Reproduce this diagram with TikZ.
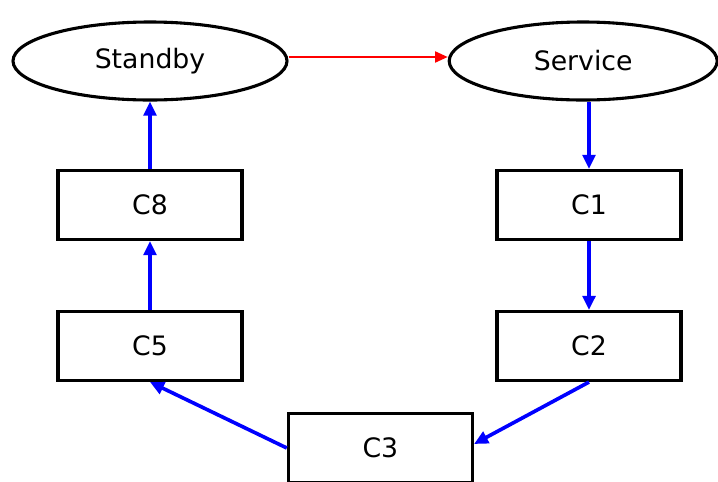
\documentclass[tikz,border=0pt]{standalone}
\usepackage{fontspec}
\setmainfont{DejaVu Sans}
\usetikzlibrary{shapes.geometric,arrows.meta,positioning}

\tikzset{
  statenode/.style={ellipse,draw=black,line width=2.2pt,fill=white,
                    minimum width=6.85cm,minimum height=1.95cm,
                    font=\fontsize{19}{23}\selectfont},
  cbox/.style={rectangle,draw=black,line width=2.3pt,fill=white,
               minimum width=4.6cm,minimum height=1.72cm,
               font=\fontsize{19}{23}\selectfont},
  barr/.style={-{Triangle[length=10pt,width=9pt]},blue,line width=2.6pt},
  rarr/.style={-{Triangle[length=9pt,width=8pt]},red,line width=1pt},
}

\begin{document}
\begin{tikzpicture}
  \useasboundingbox (0,0) rectangle (17.95,-12.025);

  \node[statenode] (standby) at (3.75,-1.525) {Standby};
  \node[statenode, minimum width=6.7cm] (service) at (14.58,-1.525) {Service};

  \node[cbox] (c8) at (3.75,-5.125) {C8};
  \node[cbox, below=1.725cm of c8] (c5) {C5};
  \node[cbox] (c1) at (14.725,-5.125) {C1};
  \node[cbox, below=1.725cm of c1] (c2) {C2};
  \node[cbox] (c3) at (9.51,-11.2) {C3};

  \draw[rarr] ([yshift=0.1cm]standby.east) -- ([yshift=0.1cm]service.west);
  \draw[barr] (service.south -| c1.north) -- (c1.north);
  \draw[barr] (c1) -- (c2);
  \draw[barr] (c2.south) -- ([yshift=0.1cm]c3.east);
  \draw[barr] (c3.west) -- (c5.south);
  \draw[barr] (c5) -- (c8);
  \draw[barr] (c8) -- (standby);

\end{tikzpicture}
\end{document}
